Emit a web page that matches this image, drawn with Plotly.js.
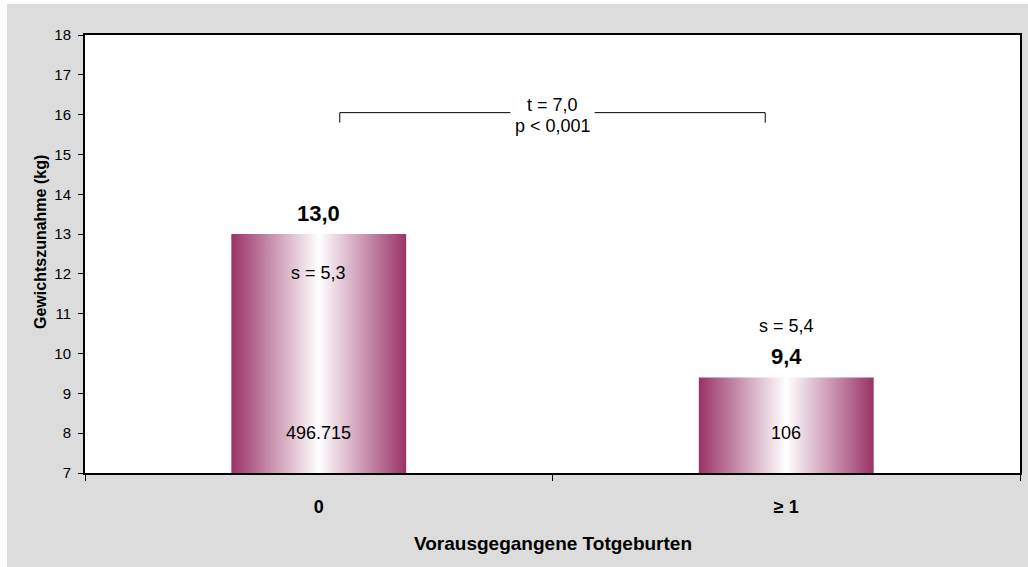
<!DOCTYPE html>
<html>
<head>
<meta charset="utf-8">
<script src="https://cdn.plot.ly/plotly-3.0.1.min.js"></script>
<style>
  html, body { margin: 0; padding: 0; background: #ffffff; }
  #chart { width: 1028px; height: 567px; }
</style>
</head>
<body>
<div id="chart"></div>
<script>
// Weight gain by number of previous stillbirths
const categories = ['0', '≥ 1'];
const means = [13.0, 9.4];
const sds = [5.3, 5.4];
const counts = ['496.715', '106'];
const tTest = 't = 7,0';
const pValue = 'p < 0,001';
const xTitle = 'Vorausgegangene Totgeburten';
const yTitle = 'Gewichtszunahme (kg)';

const yMin = 7, yMax = 18;
const barWidth = 0.374;
const barEdge = '#993366';
const fontFamily = 'Liberation Sans, Arial, sans-serif';

const fmt = v => v.toFixed(1).replace('.', ',');

// Bars as filled polygons so they can carry a horizontal edge-to-centre gradient
const traces = means.map((m, i) => ({
  type: 'scatter',
  mode: 'lines',
  x: [i - barWidth / 2, i - barWidth / 2, i + barWidth / 2, i + barWidth / 2, i - barWidth / 2],
  y: [yMin, m, m, yMin, yMin],
  fill: 'toself',
  line: { width: 0, color: barEdge },
  fillgradient: {
    type: 'horizontal',
    colorscale: [[0, barEdge], [0.5, '#ffffff'], [1, barEdge]]
  },
  hoverinfo: 'skip',
  showlegend: false
}));

const labelFont = { family: fontFamily, size: 18, color: '#000' };

const annotations = [];
means.forEach((m, i) => {
  // mean value above the bar
  annotations.push({
    x: i, y: m, xref: 'x', yref: 'y', text: '<b>' + fmt(m) + '</b>',
    showarrow: false, yanchor: 'middle', yshift: 21,
    font: { family: fontFamily, size: 22, color: '#000' }
  });
  // standard deviation: inside tall bars, above short ones
  const inside = (m - yMin) > 3;
  annotations.push({
    x: i, y: m, xref: 'x', yref: 'y', text: 's = ' + fmt(sds[i]),
    showarrow: false, yanchor: 'middle', yshift: inside ? -39 : 51,
    font: labelFont
  });
  // group size near the base
  annotations.push({
    x: i, y: yMin + 1, xref: 'x', yref: 'y', text: counts[i],
    showarrow: false, yanchor: 'middle', font: labelFont
  });
});

// significance bracket between the two groups
const brY = 16.05, brTick = 15.8, brL = 0.045, brR = 0.955, gapL = 0.41, gapR = 0.59;
const shapes = [
  { type: 'path', xref: 'x', yref: 'y',
    path: `M ${brL},${brTick} L ${brL},${brY} L ${gapL},${brY}`,
    line: { color: '#000', width: 1 } },
  { type: 'path', xref: 'x', yref: 'y',
    path: `M ${gapR},${brY} L ${brR},${brY} L ${brR},${brTick}`,
    line: { color: '#000', width: 1 } },
  // white margin strips around the grey chart area
  { type: 'rect', xref: 'paper', yref: 'paper', layer: 'below',
    x0: -0.2, x1: (7 - 85) / 935, y0: -0.3, y1: 1.2,
    fillcolor: '#ffffff', line: { width: 0 } },
  { type: 'rect', xref: 'paper', yref: 'paper', layer: 'below',
    x0: -0.2, x1: 1.2, y0: (473 - 4) / 438, y1: 1.2,
    fillcolor: '#ffffff', line: { width: 0 } }
];
annotations.push({
  x: 0.5, y: 16.24, xref: 'x', yref: 'y', text: tTest, showarrow: false, font: labelFont
});
annotations.push({
  x: 0.5, y: 15.72, xref: 'x', yref: 'y', text: pValue, showarrow: false, font: labelFont
});

// axis titles
annotations.push({
  x: (40 - 85) / 935, y: (473 - 242) / 438, xref: 'paper', yref: 'paper',
  text: '<b>' + yTitle + '</b>', textangle: -90, showarrow: false,
  xanchor: 'center', yanchor: 'middle',
  font: { family: fontFamily, size: 16, color: '#000' }
});
annotations.push({
  x: 0.5, y: (473 - 543) / 438, xref: 'paper', yref: 'paper',
  text: '<b>' + xTitle + '</b>', showarrow: false,
  xanchor: 'center', yanchor: 'middle',
  font: { family: fontFamily, size: 19, color: '#000' }
});

// invisible helper trace so the tick-only axis is drawn
traces.push({
  type: 'scatter', mode: 'markers', x: [0.5], y: [yMin], xaxis: 'x2',
  marker: { opacity: 0 }, hoverinfo: 'skip', showlegend: false
});

const layout = {
  width: 1028, height: 567,
  margin: { l: 85, r: 8, t: 35, b: 94 },
  paper_bgcolor: '#dcdcdc',
  plot_bgcolor: '#ffffff',
  font: { family: fontFamily, color: '#000' },
  showlegend: false,
  xaxis: {
    range: [-0.5, 1.5],
    tickvals: [0, 1], ticktext: categories,
    ticks: '', ticklabelstandoff: 16,
    tickfont: { family: fontFamily, size: 18, color: '#000', weight: 'bold' },
    showgrid: false, zeroline: false,
    showline: true, mirror: true, linecolor: '#000', linewidth: 2,
    fixedrange: true
  },
  xaxis2: {
    overlaying: 'x', anchor: 'y', side: 'bottom',
    range: [-0.5, 1.5],
    tickvals: [-0.5, 0.5, 1.5],
    ticks: 'outside', ticklen: 7, tickwidth: 1, tickcolor: '#000',
    showticklabels: false, showgrid: false, zeroline: false, showline: false,
    fixedrange: true
  },
  yaxis: {
    range: [yMin, yMax], dtick: 1,
    ticks: 'outside', ticklen: 5, tickwidth: 1, tickcolor: '#000',
    ticklabelstandoff: 4,
    tickfont: { family: fontFamily, size: 15, color: '#000' },
    showgrid: false, zeroline: false,
    showline: true, mirror: true, linecolor: '#000', linewidth: 2,
    fixedrange: true
  },
  annotations: annotations,
  shapes: shapes
};

Plotly.newPlot('chart', traces, layout, { displayModeBar: false, staticPlot: true });
</script>
</body>
</html>
